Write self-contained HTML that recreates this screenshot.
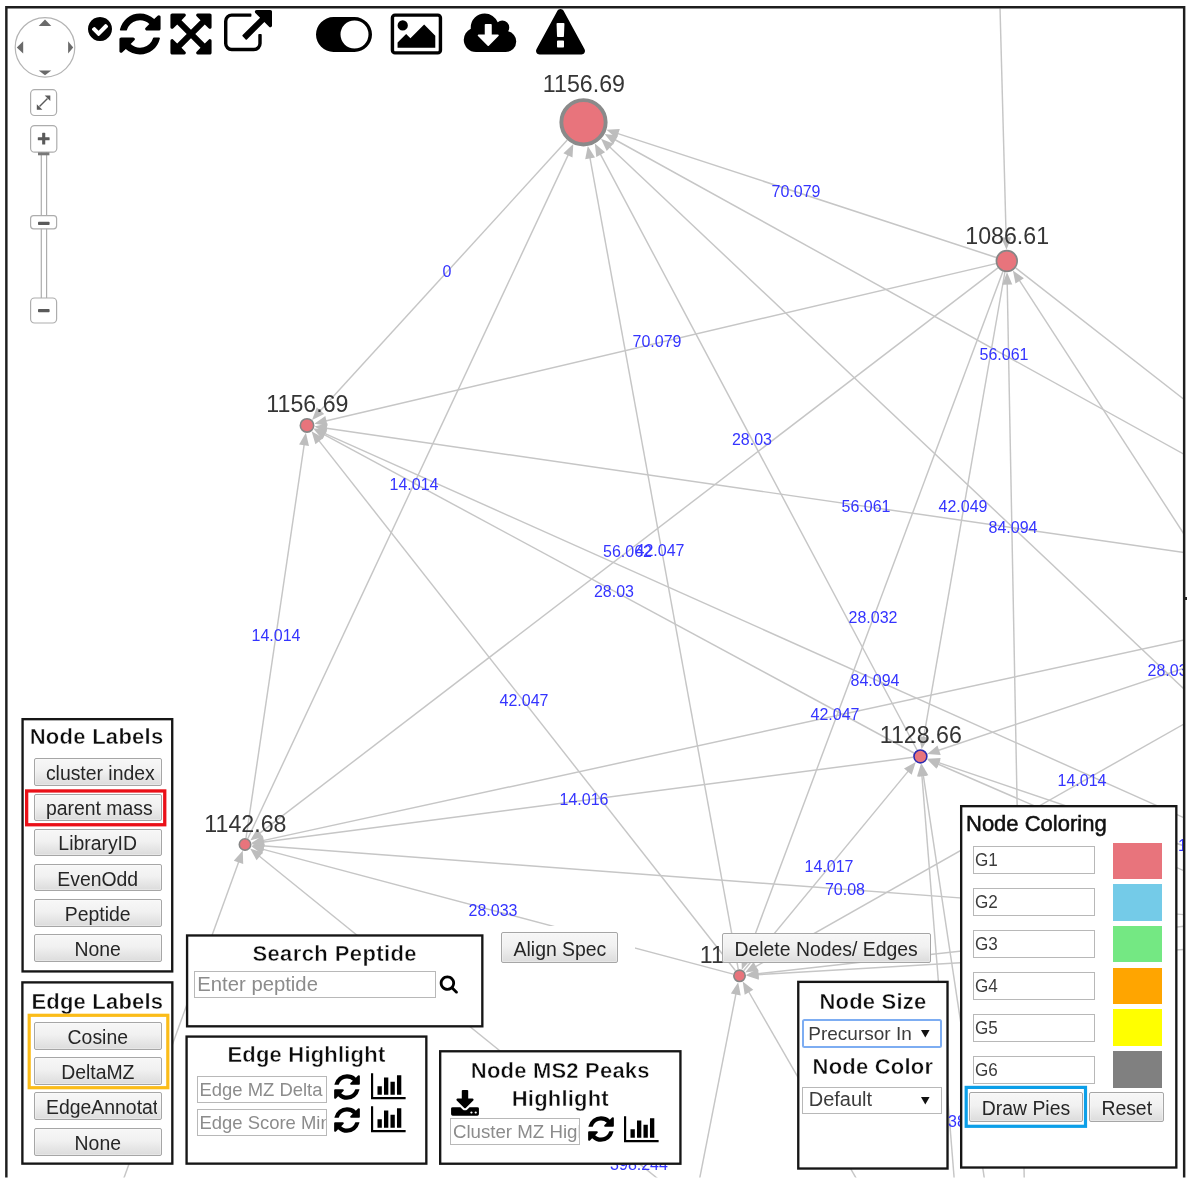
<!DOCTYPE html>
<html lang="en"><head><meta charset="utf-8"><title>Network Visualizer</title>
<style>

html,body{margin:0;padding:0;background:#fff;}
body{width:1200px;height:1183px;position:relative;overflow:hidden;filter:blur(.5px);font-family:"Liberation Sans",sans-serif;}
.ic{position:absolute;display:block;overflow:visible}
.abs{position:absolute;box-sizing:border-box}
.panel{position:absolute;box-sizing:border-box;background:#fff;border:2.4px solid #111;}
.ttl{position:absolute;left:0;right:0;text-align:center;font-weight:bold;font-size:22px;line-height:26px;color:#0c0c0c;white-space:nowrap;letter-spacing:.2px;-webkit-text-stroke:.45px #fff}
.btn{position:absolute;box-sizing:border-box;border:1px solid #a6a6a6;border-radius:2px;
 background:linear-gradient(#f7f7f7,#f1f1f1 45%,#dcdcdc);color:#262626;font-size:19.4px;line-height:1;
 text-align:center;white-space:nowrap;overflow:hidden;box-shadow:0 0 0 .5px rgba(255,255,255,.6) inset}
.btn span{position:absolute;left:11.2px;right:11.2px;top:50%;transform:translateY(-42%);}
.inp{position:absolute;box-sizing:border-box;border:1.3px solid #b8b8b8;background:#fff;overflow:hidden;white-space:nowrap;
 font-size:19.6px;color:#8c8c8c;}
.inp span{position:absolute;left:1.6px;top:50%;transform:translateY(-52%);}
.inp.val{color:#3c3c3c}

</style></head>
<body>
<svg id="cy" width="1200" height="1183" viewBox="0 0 1200 1183" style="position:absolute;left:0;top:0">
<defs><clipPath id="cv"><rect x="7.5" y="8.4" width="1175.6" height="1169.1"/></clipPath></defs>
<g clip-path="url(#cv)">
<g stroke="#c6c6c6" stroke-width="1.45" fill="none"><line x1="996.2" y1="257.5" x2="616.4" y2="133.1"/><line x1="567.3" y1="140.1" x2="319.1" y2="412.1"/><line x1="917.0" y1="750.0" x2="599.7" y2="152.9"/><line x1="247.8" y1="838.6" x2="568.8" y2="153.6"/><line x1="738.3" y1="969.4" x2="589.7" y2="156.3"/><line x1="1437.8" y1="928.5" x2="608.7" y2="146.0"/><line x1="1418.0" y1="583.6" x2="613.8" y2="139.0"/><line x1="995.9" y1="263.6" x2="324.5" y2="421.3"/><line x1="1417.1" y1="586.4" x2="324.8" y2="428.0"/><line x1="1436.3" y1="930.7" x2="323.4" y2="432.8"/><line x1="914.0" y1="753.0" x2="322.8" y2="433.9"/><line x1="735.5" y1="970.7" x2="318.1" y2="439.6"/><line x1="246.0" y1="838.1" x2="304.4" y2="443.2"/><line x1="1004.9" y1="272.0" x2="923.4" y2="738.9"/><line x1="1417.4" y1="590.0" x2="937.2" y2="750.8"/><line x1="1436.0" y1="931.4" x2="937.2" y2="762.1"/><line x1="1278.7" y1="911.8" x2="936.7" y2="763.5"/><line x1="743.6" y1="970.8" x2="909.1" y2="770.1"/><line x1="983.8" y1="1548.4" x2="921.8" y2="774.1"/><line x1="1028.8" y1="1472.1" x2="923.1" y2="773.9"/><line x1="997.9" y1="267.8" x2="258.5" y2="834.2"/><line x1="1417.2" y1="589.2" x2="261.6" y2="840.9"/><line x1="913.2" y1="757.3" x2="261.9" y2="842.3"/><line x1="1435.6" y1="933.4" x2="262.0" y2="845.8"/><line x1="733.2" y1="974.1" x2="261.4" y2="848.9"/><line x1="1023.8" y1="1475.0" x2="258.2" y2="855.2"/><line x1="66.2" y1="1337.0" x2="239.2" y2="860.5"/><line x1="1002.9" y1="271.5" x2="745.5" y2="959.9"/><line x1="1418.0" y1="591.4" x2="754.3" y2="967.4"/><line x1="1435.6" y1="934.5" x2="756.5" y2="974.8"/><line x1="1278.0" y1="915.9" x2="756.4" y2="973.9"/><line x1="662.4" y1="1368.0" x2="736.2" y2="992.5"/><line x1="1026.0" y1="1473.1" x2="748.0" y2="990.5"/><line x1="996.3" y1="-131.0" x2="1006.2" y2="239.3"/><line x1="1029.8" y1="1472.0" x2="1007.2" y2="282.7"/><line x1="1439.2" y1="927.3" x2="1018.6" y2="279.2"/><line x1="1015.6" y1="267.9" x2="1410.4" y2="576.1"/></g>
<g fill="#bdbdbd" stroke="none"><polygon points="606.4,129.8 619.8,128.9 616.7,138.4"/><polygon points="312.1,419.9 316.8,407.3 324.2,414.0"/><polygon points="594.8,143.6 605.1,152.3 596.3,157.0"/><polygon points="573.3,144.1 572.5,157.6 563.4,153.3"/><polygon points="587.8,146.0 595.0,157.4 585.2,159.2"/><polygon points="601.0,138.8 613.5,143.8 606.7,151.1"/><polygon points="604.6,134.0 618.0,135.6 613.1,144.4"/><polygon points="314.3,423.7 325.3,416.0 327.6,425.7"/><polygon points="314.4,426.5 327.5,423.3 326.1,433.2"/><polygon points="313.8,428.5 327.3,429.0 323.2,438.1"/><polygon points="313.6,429.0 327.0,430.5 322.2,439.3"/><polygon points="311.6,431.3 323.3,438.0 315.4,444.2"/><polygon points="305.9,432.8 309.0,445.9 299.1,444.5"/><polygon points="921.6,749.3 918.9,736.1 928.7,737.8"/><polygon points="927.3,754.1 937.5,745.4 940.7,754.9"/><polygon points="927.3,758.7 940.7,758.0 937.5,767.5"/><polygon points="927.1,759.3 940.5,759.7 936.5,768.8"/><polygon points="915.8,762.0 911.7,774.8 904.0,768.5"/><polygon points="921.0,763.6 927.0,775.7 917.0,776.5"/><polygon points="921.5,763.6 928.3,775.2 918.4,776.7"/><polygon points="250.2,840.5 257.0,829.0 263.1,836.9"/><polygon points="251.4,843.1 262.5,835.6 264.6,845.3"/><polygon points="251.4,843.7 263.2,837.1 264.5,847.0"/><polygon points="251.5,845.0 264.3,840.9 263.6,850.9"/><polygon points="251.3,846.2 264.6,844.5 262.1,854.2"/><polygon points="250.1,848.6 262.9,852.6 256.6,860.3"/><polygon points="242.8,850.6 243.2,864.1 233.8,860.7"/><polygon points="741.8,969.7 741.5,956.3 750.8,959.8"/><polygon points="745.2,972.6 753.6,962.1 758.5,970.8"/><polygon points="746.0,975.4 758.2,969.7 758.8,979.7"/><polygon points="746.0,975.1 757.8,968.7 758.9,978.7"/><polygon points="738.2,982.2 740.7,995.4 730.9,993.5"/><polygon points="742.7,981.4 753.3,989.8 744.7,994.8"/><polygon points="1006.5,249.8 1001.2,237.4 1011.2,237.2"/><polygon points="1007.0,272.2 1012.3,284.6 1002.3,284.8"/><polygon points="1012.9,270.4 1023.9,278.2 1015.5,283.6"/><polygon points="1418.7,582.6 1405.8,578.8 1411.9,570.9"/></g>
<circle cx="583.5" cy="122.3" r="22.15" fill="#E8747C" stroke="#8a8a8a" stroke-width="3.9"/>
<circle cx="1006.8" cy="261.0" r="10.40" fill="#E8747C" stroke="#868686" stroke-width="1.6"/>
<circle cx="307.0" cy="425.4" r="6.70" fill="#E8747C" stroke="#868686" stroke-width="1.6"/>
<circle cx="920.4" cy="756.4" r="6.45" fill="#E8747C" stroke="#2c2cb0" stroke-width="1.6"/>
<circle cx="245.0" cy="844.5" r="5.70" fill="#E8747C" stroke="#868686" stroke-width="1.6"/>
<circle cx="739.5" cy="975.8" r="5.70" fill="#E8747C" stroke="#868686" stroke-width="1.6"/>
<g font-family="Liberation Sans, sans-serif" font-size="16.0" fill="#3434ff" text-anchor="middle">
<text x="796" y="196.7">70.079</text>
<text x="447" y="276.7">0</text>
<text x="657" y="346.7">70.079</text>
<text x="1004" y="360.2">56.061</text>
<text x="752" y="444.7">28.03</text>
<text x="414" y="489.7">14.014</text>
<text x="866" y="511.7">56.061</text>
<text x="963" y="511.7">42.049</text>
<text x="1013" y="533.2">84.094</text>
<text x="627.5" y="557.2">56.062</text>
<text x="660" y="555.7">42.047</text>
<text x="614" y="596.7">28.03</text>
<text x="873" y="622.7">28.032</text>
<text x="276" y="640.7">14.014</text>
<text x="875" y="685.7">84.094</text>
<text x="1172" y="675.7">28.031</text>
<text x="524" y="705.7">42.047</text>
<text x="835" y="719.7">42.047</text>
<text x="1082" y="785.7">14.014</text>
<text x="584" y="804.7">14.016</text>
<text x="829" y="871.7">14.017</text>
<text x="845" y="894.7">70.08</text>
<text x="493" y="915.7">28.033</text>
<text x="639" y="1169.7">398.244</text>
<text x="977" y="1126.7">384.228</text>
<text x="1202.5" y="850.7">14.019</text>
</g>
<g font-family="Liberation Sans, sans-serif" font-size="23.2" fill="#353535" text-anchor="middle">
<text x="583.9" y="92.3">1156.69</text>
<text x="1007.2" y="243.9">1086.61</text>
<text x="307.4" y="412.0">1156.69</text>
<text x="920.8" y="743.2">1128.66</text>
<text x="245.4" y="832.1">1142.68</text>
<text x="739.9" y="963.4">1114.65</text>
</g>
</g>
<path d="M6.35,1177.6 V7.3 H1184.15 V1177.6" fill="none" stroke="#1e1e1e" stroke-width="2.45" stroke-linejoin="miter"/>
</svg>
<svg class="ic" style="left:85.5px;top:15.4px" width="28.00" height="28.00" viewBox="0 0 1792 1792"><path fill="#000" d="M1412 734q0-28-18-46l-91-90q-19-19-45-19t-45 19l-408 407-226-226q-19-19-45-19t-45 19l-91 90q-18 18-18 46 0 27 18 45l362 362q19 19 45 19 27 0 46-19l543-543q18-18 18-45zm252 162q0 209-103 385.500t-279.500 279.500-385.500 103-385.500-103-279.500-279.500-103-385.500 103-385.500 279.500-279.500 385.500-103 385.500 103 279.500 279.500 103 385.500z"/></svg>
<svg class="ic" style="left:115.5px;top:9.8px" width="48.00" height="48.00" viewBox="0 0 1792 1792"><path fill="#000" d="M1639 1056q0 5-1 7-64 268-268 434.500t-478 166.500q-146 0-282.500-55t-243.500-157l-129 129q-19 19-45 19t-45-19-19-45v-448q0-26 19-45t45-19h448q26 0 45 19t19 45-19 45l-137 137q71 66 161 102t187 36q134 0 250-65t186-179q11-17 53-117 8-23 30-23h192q13 0 22.500 9.500t9.500 22.500zm25-800v448q0 26-19 45t-45 19h-448q-26 0-45-19t-19-45 19-45l138-138q-148-137-349-137-134 0-250 65t-186 179q-11 17-53 117-8 23-30 23h-199q-13 0-22.500-9.500t-9.500-22.500v-7q65-268 270-434.500t480-166.500q146 0 284 55.500t245 156.500l130-129q19-19 45-19t45 19 19 45z"/></svg>
<svg class="ic" style="left:167.0px;top:10.05px" width="48.00" height="48.00" viewBox="0 0 1792 1792"><path fill="#000" d="M1411 541l-355 355 355 355 144-144q29-31 70-14 39 17 39 59v448q0 26-19 45t-45 19h-448q-42 0-59-40-17-39 14-69l144-144-355-355-355 355 144 144q31 30 14 69-17 40-59 40h-448q-26 0-45-19t-19-45v-448q0-42 40-59 39-17 69 14l144 144 355-355-355-355-144 144q-19 19-45 19-12 0-24-5-40-17-40-59v-448q0-26 19-45t45-19h448q42 0 59 40 17 39-14 69l-144 144 355 355 355-355-144-144q-31-30-14-69 17-40 59-40h448q26 0 45 19t19 45v448q0 42-39 59-13 5-25 5-26 0-45-19z"/></svg>
<svg class="ic" style="left:223.9px;top:10.0px" width="48.00" height="48.00" viewBox="0 0 1792 1792"><path fill="#000" d="M1408 928v320q0 119-84.500 203.500t-203.500 84.500h-832q-119 0-203.500-84.500t-84.500-203.500v-832q0-119 84.500-203.500t203.500-84.500h704q14 0 23 9t9 23v64q0 14-9 23t-23 9h-704q-66 0-113 47t-47 113v832q0 66 47 113t113 47h832q66 0 113-47t47-113v-320q0-14 9-23t23-9h64q14 0 23 9t9 23zm384-864v512q0 26-19 45t-45 19-45-19l-176-176-652 652q-10 10-23 10t-23-10l-114-114q-10-10-10-23t10-23l652-652-176-176q-19-19-19-45t19-45 45-19h512q26 0 45 19t19 45z"/></svg>
<svg class="ic" style="left:316.25px;top:10.0px" width="56.00" height="49.00" viewBox="0 0 2048 1792"><path fill="#000" d="M0 896q0-130 51-248.500t136.500-204 204-136.500 248.500-51h768q130 0 248.500 51t204 136.500 136.500 204 51 248.500-51 248.500-136.500 204-204 136.500-248.500 51h-768q-130 0-248.500-51t-204-136.500-136.500-204-51-248.500zm1408 512q104 0 198.500-40.500t163.500-109.500 109.500-163.500 40.500-198.500-40.500-198.500-109.500-163.500-163.500-109.500-198.500-40.500-198.500 40.500-163.500 109.500-109.500 163.500-40.500 198.500 40.500 198.500 109.500 163.500 163.500 109.500 198.500 40.500z"/></svg>
<svg class="ic" style="left:388.6px;top:10.15px" width="54.86" height="48.00" viewBox="0 0 2048 1792"><path fill="#000" d="M704 576q0 80-56 136t-136 56-136-56-56-136 56-136 136-56 136 56 56 136zm1024 384v448h-1408v-192l320-320 160 160 512-512zm96-704h-1600q-13 0-22.500 9.500t-9.500 22.500v1216q0 13 9.500 22.500t22.500 9.500h1600q13 0 22.500-9.500t9.500-22.500v-1216q0-13-9.500-22.500t-22.500-9.500zm160 32v1216q0 66-47 113t-113 47h-1600q-66 0-113-47t-47-113v-1216q0-66 47-113t113-47h1600q66 0 113 47t47 113z"/></svg>
<svg class="ic" style="left:462.0px;top:9.7px" width="56.00" height="49.00" viewBox="0 0 2048 1792"><path fill="#000" d="M1344 928q0-14-9-23t-23-9h-224v-352q0-13-9.500-22.500t-22.500-9.500h-192q-13 0-22.500 9.500t-9.500 22.500v352h-224q-13 0-22.500 9.500t-9.500 22.500q0 14 9 23l352 352q9 9 23 9t23-9l351-351q10-12 10-24zm640 224q0 159-112.500 271.500t-271.500 112.500h-1088q-185 0-316.500-131.500t-131.500-316.500q0-130 70-240t188-165q-2-30-2-43 0-212 150-362t362-150q156 0 285.500 87t188.500 231q71-62 166-62 106 0 181 75t75 181q0 76-41 138 130 31 213.500 135.500t83.500 238.500z"/></svg>
<svg class="ic" style="left:536.45px;top:9.45px" width="49.00" height="49.00" viewBox="0 0 1792 1792"><path fill="#000" d="M1024 1375v-190q0-14-9.500-23.500t-22.500-9.500h-192q-13 0-22.500 9.500t-9.500 23.500v190q0 14 9.500 23.500t22.500 9.500h192q13 0 22.500-9.500t9.500-23.500zm-2-374l18-459q0-12-10-19-13-11-24-11h-220q-11 0-24 11-10 7-10 21l17 457q0 10 10 16.500t24 6.500h185q14 0 23.500-6.500t10.500-16.500zm-14-934l768 1408q35 63-2 126-17 29-46.500 46t-63.500 17h-1536q-34 0-63.500-17t-46.500-46q-37-63-2-126l768-1408q17-31 47-49t65-18 65 18 47 49z"/></svg>
<svg class="ic" style="left:0;top:0" width="90" height="335" viewBox="0 0 90 335">
<circle cx="45" cy="47.35" r="29.8" fill="#fff" stroke="#b4b4b4" stroke-width="1.2"/>
<g fill="#6a6a6a"><polygon points="45,19.5 38.7,26 51.3,26"/><polygon points="45,75.2 38.7,70.5 51.3,70.5"/>
<polygon points="16.8,47.4 23.2,41.3 23.2,53.6"/><polygon points="73.2,47.4 68.1,41.3 68.1,53.6"/></g>
<g fill="#fff" stroke="#adadad" stroke-width="1.2">
<rect x="41.3" y="150" width="5.3" height="150"/>
<rect x="30.6" y="89.7" width="26" height="25.8" rx="4"/>
<rect x="30.6" y="125.6" width="26.2" height="26.6" rx="4"/>
<rect x="30.6" y="298" width="26" height="25" rx="4"/>
<rect x="30.6" y="215.6" width="26" height="13.2" rx="3"/>
</g>
<rect x="38" y="152.4" width="11.4" height="2.9" fill="#777"/>
<g fill="#5a5a5a">
<rect x="37.8" y="137.2" width="11.8" height="3.1" rx=".6"/><rect x="42.15" y="132.8" width="3.1" height="11.8" rx=".6"/>
<rect x="38" y="221.8" width="11.6" height="3.3" rx=".8"/>
<rect x="38" y="309" width="11.6" height="3.3" rx=".8"/>
</g>
<g stroke="#5a5a5a" stroke-width="1.5" fill="#5a5a5a">
<line x1="39.5" y1="106.5" x2="47.5" y2="98.5" />
<polygon points="50.3,95.4 50.3,101 44.7,95.4" stroke="none"/>
<polygon points="36.8,109.8 36.8,104.2 42.4,109.8" stroke="none"/>
</g>
</svg>
<div class="abs" style="left:1185px;top:597.4px;width:2.2px;height:2.4px;background:#222"></div>
<svg class="ic" style="left:0;top:0;pointer-events:none" width="1200" height="1183" viewBox="0 0 1200 1183"><rect x="22.57" y="719.17" width="149.65" height="252.25" fill="#fff" stroke="#161616" stroke-width="2.35"/></svg>
<div class="ttl" style="left:20.6px;width:152px;right:auto;top:724px;letter-spacing:.28px">Node Labels</div>
<div class="btn" style="left:33.7px;top:758.4px;width:128px;height:27.6px;"><span>cluster index</span></div>
<div class="btn" style="left:33.7px;top:793.54px;width:128px;height:27.6px;"><span>parent mass</span></div>
<div class="btn" style="left:33.7px;top:828.68px;width:128px;height:27.6px;"><span>LibraryID</span></div>
<div class="btn" style="left:33.7px;top:863.8199999999999px;width:128px;height:27.6px;"><span>EvenOdd</span></div>
<div class="btn" style="left:33.7px;top:898.96px;width:128px;height:27.6px;"><span>Peptide</span></div>
<div class="btn" style="left:33.7px;top:934.0999999999999px;width:128px;height:27.6px;"><span>None</span></div>
<svg class="ic" style="left:0;top:0;pointer-events:none" width="1200" height="1183" viewBox="0 0 1200 1183"><rect x="26.65" y="790.95" width="138.10" height="33.80" fill="none" stroke="#ea1018" stroke-width="3.3"/></svg>
<svg class="ic" style="left:0;top:0;pointer-events:none" width="1200" height="1183" viewBox="0 0 1200 1183"><rect x="22.38" y="982.38" width="149.95" height="181.25" fill="#fff" stroke="#161616" stroke-width="2.35"/></svg>
<div class="ttl" style="left:21.2px;width:152.3px;right:auto;top:988.6px">Edge Labels</div>
<div class="btn" style="left:33.9px;top:1021.6px;width:127.8px;height:28.2px;"><span>Cosine</span></div>
<div class="btn" style="left:33.9px;top:1056.9px;width:127.8px;height:28.2px;"><span>DeltaMZ</span></div>
<div class="btn" style="left:33.9px;top:1092.2px;width:127.8px;height:28.2px"><span style="left:11.2px;right:3.4px;text-align:left;overflow:hidden">EdgeAnnotation</span></div>
<div class="btn" style="left:33.9px;top:1127.5px;width:127.8px;height:28.2px;"><span>None</span></div>
<svg class="ic" style="left:0;top:0;pointer-events:none" width="1200" height="1183" viewBox="0 0 1200 1183"><rect x="29.20" y="1015.30" width="138.60" height="72.40" fill="none" stroke="#fbbc19" stroke-width="3.2"/></svg>
<svg class="ic" style="left:0;top:0;pointer-events:none" width="1200" height="1183" viewBox="0 0 1200 1183"><rect x="187.08" y="935.47" width="295.25" height="90.85" fill="#fff" stroke="#161616" stroke-width="2.35"/></svg>
<div class="ttl" style="left:185.9px;width:297.6px;right:auto;top:941px;letter-spacing:.4px">Search Peptide</div>
<div class="inp " style="left:194.1px;top:970.9px;width:242px;height:27.5px;font-size:20.3px"><span style="left:2.2px">Enter peptide</span></div>
<svg class="ic" style="left:439.4px;top:974.2px" width="19.60" height="19.60" viewBox="0 0 1792 1792"><path fill="#000" d="M1216 832q0-185-131.500-316.500t-316.500-131.500-316.500 131.500-131.500 316.500 131.500 316.500 316.500 131.500 316.500-131.500 131.500-316.500zm512 832q0 52-38 90t-90 38q-54 0-90-38l-343-342q-179 124-399 124-143 0-273.500-55.500t-225-150-150-225-55.500-273.500 55.500-273.500 150-225 225-150 273.500-55.500 273.500 55.500 225 150 150 225 55.500 273.500q0 220-124 399l343 343q37 37 37 90z"/></svg>
<svg class="ic" style="left:0;top:0;pointer-events:none" width="1200" height="1183" viewBox="0 0 1200 1183"><rect x="186.58" y="1036.58" width="239.75" height="127.05" fill="#fff" stroke="#161616" stroke-width="2.35"/></svg>
<div class="ttl" style="left:185.4px;width:242.1px;right:auto;top:1042.2px">Edge Highlight</div>
<div class="inp " style="left:196.9px;top:1075.9px;width:130px;height:27.5px;font-size:18.45px"><span style="">Edge MZ Delta</span></div>
<div class="inp " style="left:196.9px;top:1109.0px;width:130px;height:27.4px;font-size:18.45px"><span style="">Edge Score Min</span></div>
<svg class="ic" style="left:332.4px;top:1072.4px" width="30.00" height="30.00" viewBox="0 0 1792 1792"><path fill="#000" d="M1639 1056q0 5-1 7-64 268-268 434.500t-478 166.500q-146 0-282.500-55t-243.500-157l-129 129q-19 19-45 19t-45-19-19-45v-448q0-26 19-45t45-19h448q26 0 45 19t19 45-19 45l-137 137q71 66 161 102t187 36q134 0 250-65t186-179q11-17 53-117 8-23 30-23h192q13 0 22.500 9.500t9.500 22.500zm25-800v448q0 26-19 45t-45 19h-448q-26 0-45-19t-19-45 19-45l138-138q-148-137-349-137-134 0-250 65t-186 179q-11 17-53 117-8 23-30 23h-199q-13 0-22.500-9.500t-9.500-22.500v-7q65-268 270-434.500t480-166.500q146 0 284 55.500t245 156.500l130-129q19-19 45-19t45 19 19 45z"/></svg>
<svg class="ic" style="left:370.7px;top:1071.0px" width="34.63" height="30.30" viewBox="0 0 2048 1792"><path fill="#000" d="M640 896v512h-256v-512h256zm384-512v1024h-256v-1024h256zm1024 1152v128h-2048v-1536h128v1408h1920zm-640-896v768h-256v-768h256zm384-384v1152h-256v-1152h256z"/></svg>
<svg class="ic" style="left:332.4px;top:1105.0px" width="30.00" height="30.00" viewBox="0 0 1792 1792"><path fill="#000" d="M1639 1056q0 5-1 7-64 268-268 434.500t-478 166.500q-146 0-282.500-55t-243.500-157l-129 129q-19 19-45 19t-45-19-19-45v-448q0-26 19-45t45-19h448q26 0 45 19t19 45-19 45l-137 137q71 66 161 102t187 36q134 0 250-65t186-179q11-17 53-117 8-23 30-23h192q13 0 22.500 9.500t9.500 22.500zm25-800v448q0 26-19 45t-45 19h-448q-26 0-45-19t-19-45 19-45l138-138q-148-137-349-137-134 0-250 65t-186 179q-11 17-53 117-8 23-30 23h-199q-13 0-22.500-9.500t-9.500-22.500v-7q65-268 270-434.500t480-166.500q146 0 284 55.500t245 156.500l130-129q19-19 45-19t45 19 19 45z"/></svg>
<svg class="ic" style="left:370.7px;top:1103.6px" width="34.63" height="30.30" viewBox="0 0 2048 1792"><path fill="#000" d="M640 896v512h-256v-512h256zm384-512v1024h-256v-1024h256zm1024 1152v128h-2048v-1536h128v1408h1920zm-640-896v768h-256v-768h256zm384-384v1152h-256v-1152h256z"/></svg>
<svg class="ic" style="left:0;top:0;pointer-events:none" width="1200" height="1183" viewBox="0 0 1200 1183"><rect x="440.18" y="1051.27" width="240.25" height="112.45" fill="#fff" stroke="#161616" stroke-width="2.35"/></svg>
<div class="ttl" style="left:439px;width:242.6px;right:auto;top:1057px;line-height:28px">Node MS2 Peaks<br>Highlight</div>
<svg class="ic" style="left:449.6px;top:1090.1px" width="30.00" height="30.00" viewBox="0 0 1792 1792"><path fill="#000" d="M1344 1344q0-26-19-45t-45-19-45 19-19 45 19 45 45 19 45-19 19-45zm256 0q0-26-19-45t-45-19-45 19-19 45 19 45 45 19 45-19 19-45zm128-224v320q0 40-28 68t-68 28h-1472q-40 0-68-28t-28-68v-320q0-40 28-68t68-28h465l135 136q58 56 136 56t136-56l136-136h464q40 0 68 28t28 68zm-325-569q17 41-14 70l-448 448q-18 19-45 19t-45-19l-448-448q-31-29-14-70 17-39 59-39h256v-448q0-26 19-45t45-19h256q26 0 45 19t19 45v448h256q42 0 59 39z"/></svg>
<div class="inp " style="left:450.3px;top:1118.3px;width:129.3px;height:27.2px;font-size:18.7px"><span style="">Cluster MZ Highlight</span></div>
<svg class="ic" style="left:586.2px;top:1113.8px" width="30.00" height="30.00" viewBox="0 0 1792 1792"><path fill="#000" d="M1639 1056q0 5-1 7-64 268-268 434.500t-478 166.500q-146 0-282.500-55t-243.500-157l-129 129q-19 19-45 19t-45-19-19-45v-448q0-26 19-45t45-19h448q26 0 45 19t19 45-19 45l-137 137q71 66 161 102t187 36q134 0 250-65t186-179q11-17 53-117 8-23 30-23h192q13 0 22.500 9.500t9.500 22.500zm25-800v448q0 26-19 45t-45 19h-448q-26 0-45-19t-19-45 19-45l138-138q-148-137-349-137-134 0-250 65t-186 179q-11 17-53 117-8 23-30 23h-199q-13 0-22.500-9.500t-9.500-22.500v-7q65-268 270-434.500t480-166.500q146 0 284 55.500t245 156.500l130-129q19-19 45-19t45 19 19 45z"/></svg>
<svg class="ic" style="left:624.2px;top:1114.0px" width="34.63" height="30.30" viewBox="0 0 2048 1792"><path fill="#000" d="M640 896v512h-256v-512h256zm384-512v1024h-256v-1024h256zm1024 1152v128h-2048v-1536h128v1408h1920zm-640-896v768h-256v-768h256zm384-384v1152h-256v-1152h256z"/></svg>
<div class="abs" style="left:485px;top:925.6px;width:150px;height:44.8px;background:#fff"></div>
<div class="btn" style="left:501.4px;top:932.4px;width:116.4px;height:31px;"><span>Align Spec</span></div>
<div class="btn" style="left:721.6px;top:933px;width:209px;height:30.2px;"><span>Delete Nodes/ Edges</span></div>
<svg class="ic" style="left:0;top:0;pointer-events:none" width="1200" height="1183" viewBox="0 0 1200 1183"><rect x="798.27" y="981.88" width="149.25" height="186.65" fill="#fff" stroke="#161616" stroke-width="2.35"/></svg>
<div class="ttl" style="left:797.1px;width:151.6px;right:auto;top:988.8px">Node Size</div>
<div class="ttl" style="left:797.1px;width:151.6px;right:auto;top:1053.8px">Node Color</div>
<div class="inp val" style="left:801.7px;top:1019.4px;width:140.8px;height:28.3px;border:2.1px solid #7dadf2;border-radius:2.5px;font-size:19px"><span style="left:4.6px">Precursor In</span><svg class="ic" style="right:11.4px;top:50%;margin-top:-3.7px" width="8.6" height="7.4" viewBox="0 0 8.6 7.4"><polygon points="0,0 8.6,0 4.3,7.4" fill="#111"/></svg></div>
<div class="inp val" style="left:802.3px;top:1087px;width:139.6px;height:26.8px"><span style="left:5.4px;font-size:20px">Default</span><svg class="ic" style="right:11.4px;top:50%;margin-top:-3.7px" width="8.6" height="7.4" viewBox="0 0 8.6 7.4"><polygon points="0,0 8.6,0 4.3,7.4" fill="#111"/></svg></div>
<svg class="ic" style="left:0;top:0;pointer-events:none" width="1200" height="1183" viewBox="0 0 1200 1183"><rect x="961.17" y="806.17" width="215.15" height="361.35" fill="#fff" stroke="#161616" stroke-width="2.35"/></svg>
<div class="abs" style="left:966px;top:811.4px;font-size:22px;line-height:26px;color:#111;white-space:nowrap;-webkit-text-stroke:.55px #111">Node Coloring</div>
<div class="inp val" style="left:972.9px;top:846.4px;width:122.2px;height:28px;font-size:19px"><span style="left:1.2px;transform:translateY(-50%) scaleX(.9);transform-origin:left center">G1</span></div>
<div class="abs" style="left:1112.5px;top:842.5px;width:49.4px;height:36.5px;background:#E8747C"></div>
<div class="inp val" style="left:972.9px;top:888.3px;width:122.2px;height:28px;font-size:19px"><span style="left:1.2px;transform:translateY(-50%) scaleX(.9);transform-origin:left center">G2</span></div>
<div class="abs" style="left:1112.5px;top:884.2px;width:49.4px;height:36.5px;background:#74CBE8"></div>
<div class="inp val" style="left:972.9px;top:930.1px;width:122.2px;height:28px;font-size:19px"><span style="left:1.2px;transform:translateY(-50%) scaleX(.9);transform-origin:left center">G3</span></div>
<div class="abs" style="left:1112.5px;top:925.9px;width:49.4px;height:36.5px;background:#74E883"></div>
<div class="inp val" style="left:972.9px;top:972.0px;width:122.2px;height:28px;font-size:19px"><span style="left:1.2px;transform:translateY(-50%) scaleX(.9);transform-origin:left center">G4</span></div>
<div class="abs" style="left:1112.5px;top:967.7px;width:49.4px;height:36.5px;background:#FFA500"></div>
<div class="inp val" style="left:972.9px;top:1013.8px;width:122.2px;height:28px;font-size:19px"><span style="left:1.2px;transform:translateY(-50%) scaleX(.9);transform-origin:left center">G5</span></div>
<div class="abs" style="left:1112.5px;top:1009.4px;width:49.4px;height:36.5px;background:#FFFF00"></div>
<div class="inp val" style="left:972.9px;top:1055.7px;width:122.2px;height:28px;font-size:19px"><span style="left:1.2px;transform:translateY(-50%) scaleX(.9);transform-origin:left center">G6</span></div>
<div class="abs" style="left:1112.5px;top:1051.1px;width:49.4px;height:36.5px;background:#808080"></div>
<svg class="ic" style="left:0;top:0;pointer-events:none" width="1200" height="1183" viewBox="0 0 1200 1183"><rect x="966.20" y="1087.40" width="119.30" height="38.90" fill="none" stroke="#0c9fe8" stroke-width="3.2"/></svg>
<div class="btn" style="left:969.2px;top:1092px;width:113.5px;height:29.7px;"><span>Draw Pies</span></div>
<div class="btn" style="left:1089.2px;top:1092px;width:74.8px;height:29.7px;"><span>Reset</span></div>
</body></html>
